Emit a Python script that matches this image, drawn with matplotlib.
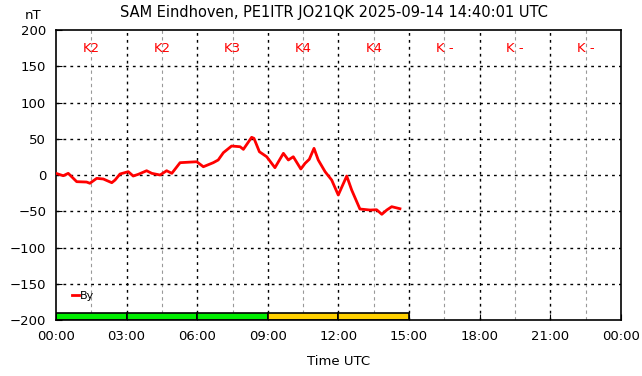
import matplotlib
matplotlib.use('Agg')
import matplotlib.pyplot as plt
import numpy as np

# By component (nT) vs time (hours UTC)
hours = [0.0, 0.31, 0.52, 0.88, 1.30, 1.44, 1.73, 2.01, 2.37, 2.51, 2.72, 3.07, 3.28, 3.50,
         3.85, 4.07, 4.42, 4.70, 4.92, 5.27, 5.98, 6.26, 6.68, 6.89, 7.11, 7.46, 7.82, 7.96,
         8.31, 8.41, 8.64, 8.95, 9.30, 9.66, 9.87, 10.08, 10.40, 10.58, 10.76, 10.96, 11.14,
         11.43, 11.71, 11.99, 12.35, 12.56, 12.91, 13.34, 13.62, 13.84, 14.05, 14.26, 14.61]
by_nt = [2.3, -1, 2.3, -9.2, -9.7, -11.4, -4.6, -5.5, -10.6, -6.9, 1.4, 4.6, -1.4, 1.0,
         5.9, 2.3, 0, 5.9, 2.3, 17, 18.3, 11.4, 17, 20.7, 30.8, 40, 39, 35.4,
         52, 50.6, 32.1, 25.2, 10.1, 29.9, 20.7, 25.2, 8.3, 16.1, 21.7, 36.8, 20.7,
         4.6, -6.9, -27.6, -1.4, -20.7, -46.9, -48.3, -47.9, -54.2, -48.3, -43.7, -46.5]

# K index per 3-hour slot
k_labels = ['K2', 'K2', 'K3', 'K4', 'K4', 'K -', 'K -', 'K -']
k_values = [2, 2, 3, 4, 4, None, None, None]

fig = plt.figure(figsize=(6.42, 3.76), dpi=100)
ax = fig.add_axes([0.0872, 0.1489, 0.8801, 0.7713])

ax.set_xlim(0, 24)
ax.set_ylim(-200, 200)

# grid
for h in np.arange(1.5, 24, 3):
    ax.axvline(h, color='#999999', linestyle=(0, (3, 3)), linewidth=0.8, zorder=1)
for h in np.arange(3, 24, 3):
    ax.axvline(h, color='black', linestyle=(0, (2, 3)), linewidth=1.0, zorder=1)
for v in np.arange(-150, 200, 50):
    ax.axhline(v, color='black', linestyle=(0, (2, 3)), linewidth=1.0, zorder=1)

# K bars
for i, k in enumerate(k_values):
    if k is None:
        continue
    color = '#00ee00' if k < 4 else '#ffd000'
    ax.bar(i * 3, 10, width=3, bottom=-200, align='edge', color=color,
           edgecolor='black', linewidth=1.2, zorder=2)

for i, lab in enumerate(k_labels):
    ax.text(i * 3 + 1.5, 174, lab, color='red', ha='center', va='center', fontsize=9.5, zorder=3)

ax.plot(hours, by_nt, color='red', linewidth=2, label='By', zorder=4)

ax.set_xticks(np.arange(0, 25, 3))
ax.set_xticklabels(['00:00', '03:00', '06:00', '09:00', '12:00', '15:00', '18:00', '21:00', '00:00'])
ax.set_yticks(np.arange(-200, 201, 50))
ax.tick_params(direction='in', length=4, labelsize=9.5, pad=7)
for s in ax.spines.values():
    s.set_linewidth(1.2)

ax.legend(loc='lower left', bbox_to_anchor=(0.015, 0.04), frameon=False,
          handlelength=0.6, handletextpad=0.1, fontsize=8, borderaxespad=0.3)

ax.set_xlabel('Time UTC', fontsize=9.5, labelpad=9)
fig.text(0.052, 0.96, 'nT', ha='center', va='center', fontsize=9.5)
fig.text(0.52, 0.968, 'SAM Eindhoven, PE1ITR JO21QK 2025-09-14 14:40:01 UTC',
         ha='center', va='center', fontsize=10.5)

fig.savefig('out.png', dpi=100)
